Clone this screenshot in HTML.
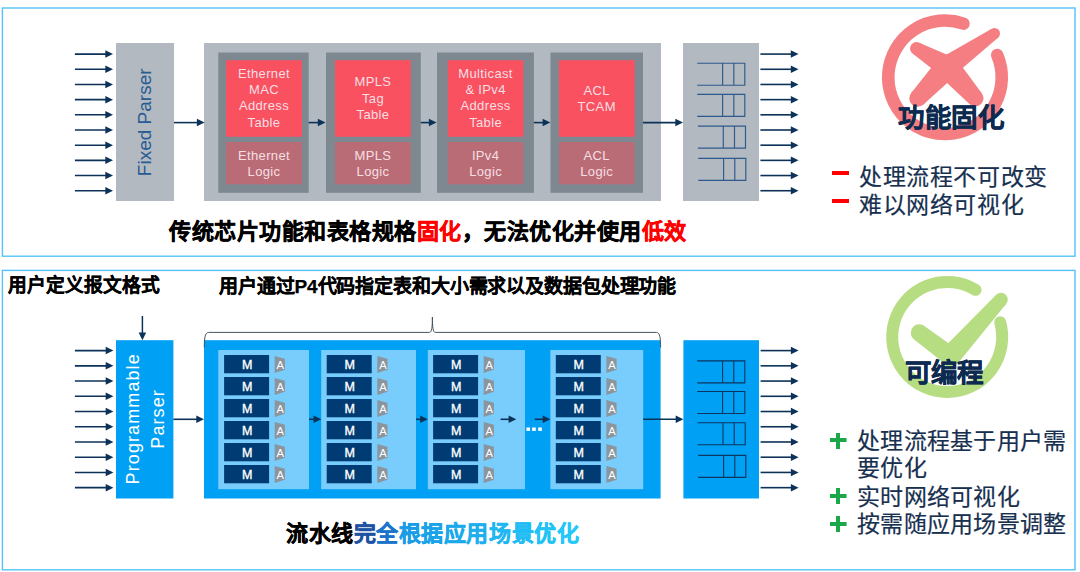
<!DOCTYPE html>
<html lang="zh-CN"><head><meta charset="utf-8">
<style>
html,body{margin:0;padding:0;background:#fff;width:1080px;height:572px;overflow:hidden;}
body{position:relative;font-family:"Liberation Sans",sans-serif;}
svg{position:absolute;left:0;top:0;}
svg text{font-family:"Liberation Sans",sans-serif;}
.dash{position:absolute;left:832px;width:17.4px;height:3.4px;background:#f00;}
.bl{font-size:23px;letter-spacing:0.6px;color:#17304f;-webkit-text-stroke:0.2px currentColor;}
.bb{letter-spacing:0.28px;}
.plus{position:absolute;left:830.4px;width:16.2px;height:16px;background:linear-gradient(#1aa84a,#1aa84a) center/100% 4.4px no-repeat,linear-gradient(#1aa84a,#1aa84a) center/4.4px 100% no-repeat;}
.t{position:absolute;white-space:nowrap;line-height:1;font-family:"Liberation Sans",sans-serif;}
</style></head><body>
<svg width="1080" height="572" viewBox="0 0 1080 572">
<rect x="2.4" y="8" width="1072.6" height="248.2" fill="none" stroke="#55c2f7" stroke-width="1.4"/>
<rect x="2.4" y="270.4" width="1072.6" height="299.4" fill="none" stroke="#55c2f7" stroke-width="1.4"/>
<line x1="74.9" y1="54.1" x2="106.3" y2="54.1" stroke="#0c3259" stroke-width="1.6"/><path d="M105.3,50.35 L113,54.1 L105.3,57.85 Z" fill="#0c3259"/>
<line x1="760.4" y1="54.1" x2="791.8" y2="54.1" stroke="#0c3259" stroke-width="1.6"/><path d="M790.8,50.35 L798.5,54.1 L790.8,57.85 Z" fill="#0c3259"/>
<line x1="74.9" y1="69.28" x2="106.3" y2="69.28" stroke="#0c3259" stroke-width="1.6"/><path d="M105.3,65.53 L113,69.28 L105.3,73.03 Z" fill="#0c3259"/>
<line x1="760.4" y1="69.28" x2="791.8" y2="69.28" stroke="#0c3259" stroke-width="1.6"/><path d="M790.8,65.53 L798.5,69.28 L790.8,73.03 Z" fill="#0c3259"/>
<line x1="74.9" y1="84.46000000000001" x2="106.3" y2="84.46000000000001" stroke="#0c3259" stroke-width="1.6"/><path d="M105.3,80.71000000000001 L113,84.46000000000001 L105.3,88.21000000000001 Z" fill="#0c3259"/>
<line x1="760.4" y1="84.46000000000001" x2="791.8" y2="84.46000000000001" stroke="#0c3259" stroke-width="1.6"/><path d="M790.8,80.71000000000001 L798.5,84.46000000000001 L790.8,88.21000000000001 Z" fill="#0c3259"/>
<line x1="74.9" y1="99.64" x2="106.3" y2="99.64" stroke="#0c3259" stroke-width="1.6"/><path d="M105.3,95.89 L113,99.64 L105.3,103.39 Z" fill="#0c3259"/>
<line x1="760.4" y1="99.64" x2="791.8" y2="99.64" stroke="#0c3259" stroke-width="1.6"/><path d="M790.8,95.89 L798.5,99.64 L790.8,103.39 Z" fill="#0c3259"/>
<line x1="74.9" y1="114.82" x2="106.3" y2="114.82" stroke="#0c3259" stroke-width="1.6"/><path d="M105.3,111.07 L113,114.82 L105.3,118.57 Z" fill="#0c3259"/>
<line x1="760.4" y1="114.82" x2="791.8" y2="114.82" stroke="#0c3259" stroke-width="1.6"/><path d="M790.8,111.07 L798.5,114.82 L790.8,118.57 Z" fill="#0c3259"/>
<line x1="74.9" y1="130.0" x2="106.3" y2="130.0" stroke="#0c3259" stroke-width="1.6"/><path d="M105.3,126.25 L113,130.0 L105.3,133.75 Z" fill="#0c3259"/>
<line x1="760.4" y1="130.0" x2="791.8" y2="130.0" stroke="#0c3259" stroke-width="1.6"/><path d="M790.8,126.25 L798.5,130.0 L790.8,133.75 Z" fill="#0c3259"/>
<line x1="74.9" y1="145.18" x2="106.3" y2="145.18" stroke="#0c3259" stroke-width="1.6"/><path d="M105.3,141.43 L113,145.18 L105.3,148.93 Z" fill="#0c3259"/>
<line x1="760.4" y1="145.18" x2="791.8" y2="145.18" stroke="#0c3259" stroke-width="1.6"/><path d="M790.8,141.43 L798.5,145.18 L790.8,148.93 Z" fill="#0c3259"/>
<line x1="74.9" y1="160.35999999999999" x2="106.3" y2="160.35999999999999" stroke="#0c3259" stroke-width="1.6"/><path d="M105.3,156.60999999999999 L113,160.35999999999999 L105.3,164.10999999999999 Z" fill="#0c3259"/>
<line x1="760.4" y1="160.35999999999999" x2="791.8" y2="160.35999999999999" stroke="#0c3259" stroke-width="1.6"/><path d="M790.8,156.60999999999999 L798.5,160.35999999999999 L790.8,164.10999999999999 Z" fill="#0c3259"/>
<line x1="74.9" y1="175.54" x2="106.3" y2="175.54" stroke="#0c3259" stroke-width="1.6"/><path d="M105.3,171.79 L113,175.54 L105.3,179.29 Z" fill="#0c3259"/>
<line x1="760.4" y1="175.54" x2="791.8" y2="175.54" stroke="#0c3259" stroke-width="1.6"/><path d="M790.8,171.79 L798.5,175.54 L790.8,179.29 Z" fill="#0c3259"/>
<line x1="74.9" y1="190.72" x2="106.3" y2="190.72" stroke="#0c3259" stroke-width="1.6"/><path d="M105.3,186.97 L113,190.72 L105.3,194.47 Z" fill="#0c3259"/>
<line x1="760.4" y1="190.72" x2="791.8" y2="190.72" stroke="#0c3259" stroke-width="1.6"/><path d="M790.8,186.97 L798.5,190.72 L790.8,194.47 Z" fill="#0c3259"/>
<rect x="116" y="43" width="58" height="158" fill="#b2b9c0"/>
<rect x="204" y="43" width="457" height="158" fill="#b2b9c0"/>
<rect x="683" y="43" width="76" height="158" fill="#b2b9c0"/>
<rect x="218.3" y="52.5" width="90.39999999999998" height="140.3" fill="#7d8891"/>
<rect x="226" y="60.2" width="76" height="76.6" fill="#fa5161"/>
<rect x="226" y="142" width="76" height="42.3" fill="#ba6c76"/>
<rect x="326" y="52.5" width="94.80000000000001" height="140.3" fill="#7d8891"/>
<rect x="335" y="60.2" width="75.80000000000001" height="76.6" fill="#fa5161"/>
<rect x="335" y="142" width="75.80000000000001" height="42.3" fill="#ba6c76"/>
<rect x="437" y="52.5" width="96.89999999999998" height="140.3" fill="#7d8891"/>
<rect x="447.8" y="60.2" width="75.59999999999997" height="76.6" fill="#fa5161"/>
<rect x="447.8" y="142" width="75.59999999999997" height="42.3" fill="#ba6c76"/>
<rect x="550.5" y="52.5" width="92.5" height="140.3" fill="#7d8891"/>
<rect x="558.9" y="60.2" width="75.70000000000005" height="76.6" fill="#fa5161"/>
<rect x="558.9" y="142" width="75.70000000000005" height="42.3" fill="#ba6c76"/>
<line x1="174" y1="122.6" x2="197.9" y2="122.6" stroke="#0c3259" stroke-width="1.6"/><path d="M196.9,118.85 L204.6,122.6 L196.9,126.35 Z" fill="#0c3259"/>
<line x1="308.7" y1="122.6" x2="318.8" y2="122.6" stroke="#0c3259" stroke-width="1.6"/><path d="M317.8,118.85 L325.5,122.6 L317.8,126.35 Z" fill="#0c3259"/>
<line x1="420.8" y1="122.6" x2="429.90000000000003" y2="122.6" stroke="#0c3259" stroke-width="1.6"/><path d="M428.90000000000003,118.85 L436.6,122.6 L428.90000000000003,126.35 Z" fill="#0c3259"/>
<line x1="533.9" y1="122.6" x2="543.5999999999999" y2="122.6" stroke="#0c3259" stroke-width="1.6"/><path d="M542.5999999999999,118.85 L550.3,122.6 L542.5999999999999,126.35 Z" fill="#0c3259"/>
<line x1="643" y1="122.6" x2="676.3" y2="122.6" stroke="#0c3259" stroke-width="1.6"/><path d="M675.3,118.85 L683,122.6 L675.3,126.35 Z" fill="#0c3259"/>
<path d="M697.2,63.2 H744.8000000000001 V85.2 H697.2 M722.6,63.2 V85.2 M733.8000000000001,63.2 V85.2" fill="none" stroke="#2c5a8c" stroke-width="1.15"/>
<path d="M697.2,94.3 H744.8000000000001 V116.3 H697.2 M722.6,94.3 V116.3 M733.8000000000001,94.3 V116.3" fill="none" stroke="#2c5a8c" stroke-width="1.15"/>
<path d="M697.9,126.1 H745.5 V148.1 H697.9 M723.3,126.1 V148.1 M734.5,126.1 V148.1" fill="none" stroke="#2c5a8c" stroke-width="1.15"/>
<path d="M698.2,158.3 H745.8000000000001 V180.3 H698.2 M723.6,158.3 V180.3 M734.8000000000001,158.3 V180.3" fill="none" stroke="#2c5a8c" stroke-width="1.15"/>
<text x="264" y="77.5" font-size="13" fill="#f6dfe2" text-anchor="middle" font-weight="normal" letter-spacing="0.35">Ethernet</text><text x="264" y="93.9" font-size="13" fill="#f6dfe2" text-anchor="middle" font-weight="normal" letter-spacing="0.35">MAC</text><text x="264" y="110.3" font-size="13" fill="#f6dfe2" text-anchor="middle" font-weight="normal" letter-spacing="0.35">Address</text><text x="264" y="126.69999999999999" font-size="13" fill="#f6dfe2" text-anchor="middle" font-weight="normal" letter-spacing="0.35">Table</text>
<text x="264" y="159.6" font-size="13" fill="#f6dfe2" text-anchor="middle" font-weight="normal" letter-spacing="0.35">Ethernet</text><text x="264" y="176.0" font-size="13" fill="#f6dfe2" text-anchor="middle" font-weight="normal" letter-spacing="0.35">Logic</text>
<text x="373" y="86.3" font-size="13" fill="#f6dfe2" text-anchor="middle" font-weight="normal" letter-spacing="0.35">MPLS</text><text x="373" y="102.69999999999999" font-size="13" fill="#f6dfe2" text-anchor="middle" font-weight="normal" letter-spacing="0.35">Tag</text><text x="373" y="119.1" font-size="13" fill="#f6dfe2" text-anchor="middle" font-weight="normal" letter-spacing="0.35">Table</text>
<text x="373" y="159.6" font-size="13" fill="#f6dfe2" text-anchor="middle" font-weight="normal" letter-spacing="0.35">MPLS</text><text x="373" y="176.0" font-size="13" fill="#f6dfe2" text-anchor="middle" font-weight="normal" letter-spacing="0.35">Logic</text>
<text x="485.6" y="77.5" font-size="13" fill="#f6dfe2" text-anchor="middle" font-weight="normal" letter-spacing="0.35">Multicast</text><text x="485.6" y="93.9" font-size="13" fill="#f6dfe2" text-anchor="middle" font-weight="normal" letter-spacing="0.35">&amp; IPv4</text><text x="485.6" y="110.3" font-size="13" fill="#f6dfe2" text-anchor="middle" font-weight="normal" letter-spacing="0.35">Address</text><text x="485.6" y="126.69999999999999" font-size="13" fill="#f6dfe2" text-anchor="middle" font-weight="normal" letter-spacing="0.35">Table</text>
<text x="485.6" y="159.6" font-size="13" fill="#f6dfe2" text-anchor="middle" font-weight="normal" letter-spacing="0.35">IPv4</text><text x="485.6" y="176.0" font-size="13" fill="#f6dfe2" text-anchor="middle" font-weight="normal" letter-spacing="0.35">Logic</text>
<text x="596.7" y="94.8" font-size="13" fill="#f6dfe2" text-anchor="middle" font-weight="normal" letter-spacing="0.35">ACL</text><text x="596.7" y="111.19999999999999" font-size="13" fill="#f6dfe2" text-anchor="middle" font-weight="normal" letter-spacing="0.35">TCAM</text>
<text x="596.7" y="159.6" font-size="13" fill="#f6dfe2" text-anchor="middle" font-weight="normal" letter-spacing="0.35">ACL</text><text x="596.7" y="176.0" font-size="13" fill="#f6dfe2" text-anchor="middle" font-weight="normal" letter-spacing="0.35">Logic</text>
<text transform="translate(151.2,122.3) rotate(-90)" font-size="19" fill="#285b93" text-anchor="middle">Fixed Parser</text>
<line x1="74.9" y1="350.6" x2="106.7" y2="350.6" stroke="#0c3259" stroke-width="1.6"/><path d="M105.7,346.85 L113.4,350.6 L105.7,354.35 Z" fill="#0c3259"/>
<line x1="760.6" y1="350.6" x2="791.9" y2="350.6" stroke="#0c3259" stroke-width="1.6"/><path d="M790.9,346.85 L798.6,350.6 L790.9,354.35 Z" fill="#0c3259"/>
<line x1="74.9" y1="365.83000000000004" x2="106.7" y2="365.83000000000004" stroke="#0c3259" stroke-width="1.6"/><path d="M105.7,362.08000000000004 L113.4,365.83000000000004 L105.7,369.58000000000004 Z" fill="#0c3259"/>
<line x1="760.6" y1="365.83000000000004" x2="791.9" y2="365.83000000000004" stroke="#0c3259" stroke-width="1.6"/><path d="M790.9,362.08000000000004 L798.6,365.83000000000004 L790.9,369.58000000000004 Z" fill="#0c3259"/>
<line x1="74.9" y1="381.06" x2="106.7" y2="381.06" stroke="#0c3259" stroke-width="1.6"/><path d="M105.7,377.31 L113.4,381.06 L105.7,384.81 Z" fill="#0c3259"/>
<line x1="760.6" y1="381.06" x2="791.9" y2="381.06" stroke="#0c3259" stroke-width="1.6"/><path d="M790.9,377.31 L798.6,381.06 L790.9,384.81 Z" fill="#0c3259"/>
<line x1="74.9" y1="396.29" x2="106.7" y2="396.29" stroke="#0c3259" stroke-width="1.6"/><path d="M105.7,392.54 L113.4,396.29 L105.7,400.04 Z" fill="#0c3259"/>
<line x1="760.6" y1="396.29" x2="791.9" y2="396.29" stroke="#0c3259" stroke-width="1.6"/><path d="M790.9,392.54 L798.6,396.29 L790.9,400.04 Z" fill="#0c3259"/>
<line x1="74.9" y1="411.52000000000004" x2="106.7" y2="411.52000000000004" stroke="#0c3259" stroke-width="1.6"/><path d="M105.7,407.77000000000004 L113.4,411.52000000000004 L105.7,415.27000000000004 Z" fill="#0c3259"/>
<line x1="760.6" y1="411.52000000000004" x2="791.9" y2="411.52000000000004" stroke="#0c3259" stroke-width="1.6"/><path d="M790.9,407.77000000000004 L798.6,411.52000000000004 L790.9,415.27000000000004 Z" fill="#0c3259"/>
<line x1="74.9" y1="426.75" x2="106.7" y2="426.75" stroke="#0c3259" stroke-width="1.6"/><path d="M105.7,423.0 L113.4,426.75 L105.7,430.5 Z" fill="#0c3259"/>
<line x1="760.6" y1="426.75" x2="791.9" y2="426.75" stroke="#0c3259" stroke-width="1.6"/><path d="M790.9,423.0 L798.6,426.75 L790.9,430.5 Z" fill="#0c3259"/>
<line x1="74.9" y1="441.98" x2="106.7" y2="441.98" stroke="#0c3259" stroke-width="1.6"/><path d="M105.7,438.23 L113.4,441.98 L105.7,445.73 Z" fill="#0c3259"/>
<line x1="760.6" y1="441.98" x2="791.9" y2="441.98" stroke="#0c3259" stroke-width="1.6"/><path d="M790.9,438.23 L798.6,441.98 L790.9,445.73 Z" fill="#0c3259"/>
<line x1="74.9" y1="457.21000000000004" x2="106.7" y2="457.21000000000004" stroke="#0c3259" stroke-width="1.6"/><path d="M105.7,453.46000000000004 L113.4,457.21000000000004 L105.7,460.96000000000004 Z" fill="#0c3259"/>
<line x1="760.6" y1="457.21000000000004" x2="791.9" y2="457.21000000000004" stroke="#0c3259" stroke-width="1.6"/><path d="M790.9,453.46000000000004 L798.6,457.21000000000004 L790.9,460.96000000000004 Z" fill="#0c3259"/>
<line x1="74.9" y1="472.44000000000005" x2="106.7" y2="472.44000000000005" stroke="#0c3259" stroke-width="1.6"/><path d="M105.7,468.69000000000005 L113.4,472.44000000000005 L105.7,476.19000000000005 Z" fill="#0c3259"/>
<line x1="760.6" y1="472.44000000000005" x2="791.9" y2="472.44000000000005" stroke="#0c3259" stroke-width="1.6"/><path d="M790.9,468.69000000000005 L798.6,472.44000000000005 L790.9,476.19000000000005 Z" fill="#0c3259"/>
<line x1="74.9" y1="487.67" x2="106.7" y2="487.67" stroke="#0c3259" stroke-width="1.6"/><path d="M105.7,483.92 L113.4,487.67 L105.7,491.42 Z" fill="#0c3259"/>
<line x1="760.6" y1="487.67" x2="791.9" y2="487.67" stroke="#0c3259" stroke-width="1.6"/><path d="M790.9,483.92 L798.6,487.67 L790.9,491.42 Z" fill="#0c3259"/>
<rect x="116" y="340.2" width="57.4" height="158.3" fill="#00a1f4"/>
<rect x="204" y="340.2" width="456.6" height="158.3" fill="#00a1f4"/>
<rect x="683.4" y="340.2" width="75.6" height="158.3" fill="#00a1f4"/>
<rect x="218.3" y="350" width="90.69999999999999" height="139.2" fill="#79cdfd"/>
<rect x="224.1" y="355" width="45" height="18.3" fill="#003c73"/>
<text x="247.1" y="369.3" font-size="12.5" fill="#fff" text-anchor="middle" stroke="#fff" stroke-width="0.35">M</text>
<path d="M274.7,355.9 L284.9,358.8 L284.9,369.8 L274.7,372.9 Z" fill="#8b959d"/>
<text x="280.3" y="369.3" font-size="11.2" fill="#fff" text-anchor="middle">A</text>
<rect x="224.1" y="377" width="45" height="18.3" fill="#003c73"/>
<text x="247.1" y="391.3" font-size="12.5" fill="#fff" text-anchor="middle" stroke="#fff" stroke-width="0.35">M</text>
<path d="M274.7,377.9 L284.9,380.8 L284.9,391.8 L274.7,394.9 Z" fill="#8b959d"/>
<text x="280.3" y="391.3" font-size="11.2" fill="#fff" text-anchor="middle">A</text>
<rect x="224.1" y="399" width="45" height="18.3" fill="#003c73"/>
<text x="247.1" y="413.3" font-size="12.5" fill="#fff" text-anchor="middle" stroke="#fff" stroke-width="0.35">M</text>
<path d="M274.7,399.9 L284.9,402.8 L284.9,413.8 L274.7,416.9 Z" fill="#8b959d"/>
<text x="280.3" y="413.3" font-size="11.2" fill="#fff" text-anchor="middle">A</text>
<rect x="224.1" y="421" width="45" height="18.3" fill="#003c73"/>
<text x="247.1" y="435.3" font-size="12.5" fill="#fff" text-anchor="middle" stroke="#fff" stroke-width="0.35">M</text>
<path d="M274.7,421.9 L284.9,424.8 L284.9,435.8 L274.7,438.9 Z" fill="#8b959d"/>
<text x="280.3" y="435.3" font-size="11.2" fill="#fff" text-anchor="middle">A</text>
<rect x="224.1" y="443" width="45" height="18.3" fill="#003c73"/>
<text x="247.1" y="457.3" font-size="12.5" fill="#fff" text-anchor="middle" stroke="#fff" stroke-width="0.35">M</text>
<path d="M274.7,443.9 L284.9,446.8 L284.9,457.8 L274.7,460.9 Z" fill="#8b959d"/>
<text x="280.3" y="457.3" font-size="11.2" fill="#fff" text-anchor="middle">A</text>
<rect x="224.1" y="465" width="45" height="18.3" fill="#003c73"/>
<text x="247.1" y="479.3" font-size="12.5" fill="#fff" text-anchor="middle" stroke="#fff" stroke-width="0.35">M</text>
<path d="M274.7,465.9 L284.9,468.8 L284.9,479.8 L274.7,482.9 Z" fill="#8b959d"/>
<text x="280.3" y="479.3" font-size="11.2" fill="#fff" text-anchor="middle">A</text>
<rect x="321.2" y="350" width="94.80000000000001" height="139.2" fill="#79cdfd"/>
<rect x="326.7" y="355" width="45" height="18.3" fill="#003c73"/>
<text x="349.7" y="369.3" font-size="12.5" fill="#fff" text-anchor="middle" stroke="#fff" stroke-width="0.35">M</text>
<path d="M377.3,355.9 L387.5,358.8 L387.5,369.8 L377.3,372.9 Z" fill="#8b959d"/>
<text x="382.90000000000003" y="369.3" font-size="11.2" fill="#fff" text-anchor="middle">A</text>
<rect x="326.7" y="377" width="45" height="18.3" fill="#003c73"/>
<text x="349.7" y="391.3" font-size="12.5" fill="#fff" text-anchor="middle" stroke="#fff" stroke-width="0.35">M</text>
<path d="M377.3,377.9 L387.5,380.8 L387.5,391.8 L377.3,394.9 Z" fill="#8b959d"/>
<text x="382.90000000000003" y="391.3" font-size="11.2" fill="#fff" text-anchor="middle">A</text>
<rect x="326.7" y="399" width="45" height="18.3" fill="#003c73"/>
<text x="349.7" y="413.3" font-size="12.5" fill="#fff" text-anchor="middle" stroke="#fff" stroke-width="0.35">M</text>
<path d="M377.3,399.9 L387.5,402.8 L387.5,413.8 L377.3,416.9 Z" fill="#8b959d"/>
<text x="382.90000000000003" y="413.3" font-size="11.2" fill="#fff" text-anchor="middle">A</text>
<rect x="326.7" y="421" width="45" height="18.3" fill="#003c73"/>
<text x="349.7" y="435.3" font-size="12.5" fill="#fff" text-anchor="middle" stroke="#fff" stroke-width="0.35">M</text>
<path d="M377.3,421.9 L387.5,424.8 L387.5,435.8 L377.3,438.9 Z" fill="#8b959d"/>
<text x="382.90000000000003" y="435.3" font-size="11.2" fill="#fff" text-anchor="middle">A</text>
<rect x="326.7" y="443" width="45" height="18.3" fill="#003c73"/>
<text x="349.7" y="457.3" font-size="12.5" fill="#fff" text-anchor="middle" stroke="#fff" stroke-width="0.35">M</text>
<path d="M377.3,443.9 L387.5,446.8 L387.5,457.8 L377.3,460.9 Z" fill="#8b959d"/>
<text x="382.90000000000003" y="457.3" font-size="11.2" fill="#fff" text-anchor="middle">A</text>
<rect x="326.7" y="465" width="45" height="18.3" fill="#003c73"/>
<text x="349.7" y="479.3" font-size="12.5" fill="#fff" text-anchor="middle" stroke="#fff" stroke-width="0.35">M</text>
<path d="M377.3,465.9 L387.5,468.8 L387.5,479.8 L377.3,482.9 Z" fill="#8b959d"/>
<text x="382.90000000000003" y="479.3" font-size="11.2" fill="#fff" text-anchor="middle">A</text>
<rect x="427.8" y="350" width="97.19999999999999" height="139.2" fill="#79cdfd"/>
<rect x="433.1" y="355" width="45" height="18.3" fill="#003c73"/>
<text x="456.1" y="369.3" font-size="12.5" fill="#fff" text-anchor="middle" stroke="#fff" stroke-width="0.35">M</text>
<path d="M483.70000000000005,355.9 L493.90000000000003,358.8 L493.90000000000003,369.8 L483.70000000000005,372.9 Z" fill="#8b959d"/>
<text x="489.30000000000007" y="369.3" font-size="11.2" fill="#fff" text-anchor="middle">A</text>
<rect x="433.1" y="377" width="45" height="18.3" fill="#003c73"/>
<text x="456.1" y="391.3" font-size="12.5" fill="#fff" text-anchor="middle" stroke="#fff" stroke-width="0.35">M</text>
<path d="M483.70000000000005,377.9 L493.90000000000003,380.8 L493.90000000000003,391.8 L483.70000000000005,394.9 Z" fill="#8b959d"/>
<text x="489.30000000000007" y="391.3" font-size="11.2" fill="#fff" text-anchor="middle">A</text>
<rect x="433.1" y="399" width="45" height="18.3" fill="#003c73"/>
<text x="456.1" y="413.3" font-size="12.5" fill="#fff" text-anchor="middle" stroke="#fff" stroke-width="0.35">M</text>
<path d="M483.70000000000005,399.9 L493.90000000000003,402.8 L493.90000000000003,413.8 L483.70000000000005,416.9 Z" fill="#8b959d"/>
<text x="489.30000000000007" y="413.3" font-size="11.2" fill="#fff" text-anchor="middle">A</text>
<rect x="433.1" y="421" width="45" height="18.3" fill="#003c73"/>
<text x="456.1" y="435.3" font-size="12.5" fill="#fff" text-anchor="middle" stroke="#fff" stroke-width="0.35">M</text>
<path d="M483.70000000000005,421.9 L493.90000000000003,424.8 L493.90000000000003,435.8 L483.70000000000005,438.9 Z" fill="#8b959d"/>
<text x="489.30000000000007" y="435.3" font-size="11.2" fill="#fff" text-anchor="middle">A</text>
<rect x="433.1" y="443" width="45" height="18.3" fill="#003c73"/>
<text x="456.1" y="457.3" font-size="12.5" fill="#fff" text-anchor="middle" stroke="#fff" stroke-width="0.35">M</text>
<path d="M483.70000000000005,443.9 L493.90000000000003,446.8 L493.90000000000003,457.8 L483.70000000000005,460.9 Z" fill="#8b959d"/>
<text x="489.30000000000007" y="457.3" font-size="11.2" fill="#fff" text-anchor="middle">A</text>
<rect x="433.1" y="465" width="45" height="18.3" fill="#003c73"/>
<text x="456.1" y="479.3" font-size="12.5" fill="#fff" text-anchor="middle" stroke="#fff" stroke-width="0.35">M</text>
<path d="M483.70000000000005,465.9 L493.90000000000003,468.8 L493.90000000000003,479.8 L483.70000000000005,482.9 Z" fill="#8b959d"/>
<text x="489.30000000000007" y="479.3" font-size="11.2" fill="#fff" text-anchor="middle">A</text>
<rect x="550.4" y="350" width="92.80000000000007" height="139.2" fill="#79cdfd"/>
<rect x="555.8" y="355" width="45" height="18.3" fill="#003c73"/>
<text x="578.8" y="369.3" font-size="12.5" fill="#fff" text-anchor="middle" stroke="#fff" stroke-width="0.35">M</text>
<path d="M606.4,355.9 L616.6,358.8 L616.6,369.8 L606.4,372.9 Z" fill="#8b959d"/>
<text x="612.0" y="369.3" font-size="11.2" fill="#fff" text-anchor="middle">A</text>
<rect x="555.8" y="377" width="45" height="18.3" fill="#003c73"/>
<text x="578.8" y="391.3" font-size="12.5" fill="#fff" text-anchor="middle" stroke="#fff" stroke-width="0.35">M</text>
<path d="M606.4,377.9 L616.6,380.8 L616.6,391.8 L606.4,394.9 Z" fill="#8b959d"/>
<text x="612.0" y="391.3" font-size="11.2" fill="#fff" text-anchor="middle">A</text>
<rect x="555.8" y="399" width="45" height="18.3" fill="#003c73"/>
<text x="578.8" y="413.3" font-size="12.5" fill="#fff" text-anchor="middle" stroke="#fff" stroke-width="0.35">M</text>
<path d="M606.4,399.9 L616.6,402.8 L616.6,413.8 L606.4,416.9 Z" fill="#8b959d"/>
<text x="612.0" y="413.3" font-size="11.2" fill="#fff" text-anchor="middle">A</text>
<rect x="555.8" y="421" width="45" height="18.3" fill="#003c73"/>
<text x="578.8" y="435.3" font-size="12.5" fill="#fff" text-anchor="middle" stroke="#fff" stroke-width="0.35">M</text>
<path d="M606.4,421.9 L616.6,424.8 L616.6,435.8 L606.4,438.9 Z" fill="#8b959d"/>
<text x="612.0" y="435.3" font-size="11.2" fill="#fff" text-anchor="middle">A</text>
<rect x="555.8" y="443" width="45" height="18.3" fill="#003c73"/>
<text x="578.8" y="457.3" font-size="12.5" fill="#fff" text-anchor="middle" stroke="#fff" stroke-width="0.35">M</text>
<path d="M606.4,443.9 L616.6,446.8 L616.6,457.8 L606.4,460.9 Z" fill="#8b959d"/>
<text x="612.0" y="457.3" font-size="11.2" fill="#fff" text-anchor="middle">A</text>
<rect x="555.8" y="465" width="45" height="18.3" fill="#003c73"/>
<text x="578.8" y="479.3" font-size="12.5" fill="#fff" text-anchor="middle" stroke="#fff" stroke-width="0.35">M</text>
<path d="M606.4,465.9 L616.6,468.8 L616.6,479.8 L606.4,482.9 Z" fill="#8b959d"/>
<text x="612.0" y="479.3" font-size="11.2" fill="#fff" text-anchor="middle">A</text>
<line x1="173.4" y1="419.3" x2="197.3" y2="419.3" stroke="#0c3259" stroke-width="1.6"/><path d="M196.3,415.55 L204,419.3 L196.3,423.05 Z" fill="#0c3259"/>
<line x1="309" y1="419.3" x2="314.5" y2="419.3" stroke="#0c3259" stroke-width="1.6"/><path d="M313.5,415.55 L321.2,419.3 L313.5,423.05 Z" fill="#0c3259"/>
<line x1="416" y1="419.3" x2="421.1" y2="419.3" stroke="#0c3259" stroke-width="1.6"/><path d="M420.1,415.55 L427.8,419.3 L420.1,423.05 Z" fill="#0c3259"/>
<line x1="500.6" y1="419.3" x2="509.59999999999997" y2="419.3" stroke="#0c3259" stroke-width="1.6"/><path d="M508.59999999999997,415.55 L516.3,419.3 L508.59999999999997,423.05 Z" fill="#0c3259"/>
<line x1="534.8" y1="419.3" x2="543.6999999999999" y2="419.3" stroke="#0c3259" stroke-width="1.6"/><path d="M542.6999999999999,415.55 L550.4,419.3 L542.6999999999999,423.05 Z" fill="#0c3259"/>
<line x1="643.2" y1="419.3" x2="676.6999999999999" y2="419.3" stroke="#0c3259" stroke-width="1.6"/><path d="M675.6999999999999,415.55 L683.4,419.3 L675.6999999999999,423.05 Z" fill="#0c3259"/>
<rect x="526.4" y="427.5" width="3.7" height="3.4" fill="#fff"/><rect x="532.1" y="427.5" width="3.7" height="3.4" fill="#fff"/><rect x="538.2" y="427.5" width="3.7" height="3.4" fill="#fff"/>
<path d="M697.2,360.9 H744.8000000000001 V382.9 H697.2 M722.6,360.9 V382.9 M733.8000000000001,360.9 V382.9" fill="none" stroke="#0d3560" stroke-width="1.1"/>
<path d="M697.2,391.5 H744.8000000000001 V413.5 H697.2 M722.6,391.5 V413.5 M733.8000000000001,391.5 V413.5" fill="none" stroke="#0d3560" stroke-width="1.1"/>
<path d="M697.6,422.7 H745.2 V444.7 H697.6 M723.0,422.7 V444.7 M734.2,422.7 V444.7" fill="none" stroke="#0d3560" stroke-width="1.1"/>
<path d="M698.2,455.4 H745.8000000000001 V477.4 H698.2 M723.6,455.4 V477.4 M734.8000000000001,455.4 V477.4" fill="none" stroke="#0d3560" stroke-width="1.1"/>
<line x1="142.4" y1="316" x2="142.4" y2="333.5" stroke="#0c3259" stroke-width="1.5"/><path d="M138.65,332.5 L142.4,340.2 L146.15,332.5 Z" fill="#0c3259"/>
<path d="M204.3,347.5 C204.3,339 204.9,332.4 208.5,332.4 L429.5,332.4 C431.8,332.4 432.4,327 432.4,317 C432.4,327 433,332.4 435.3,332.4 L656.5,332.4 C660.1,332.4 660.6,339 660.6,347.5" fill="none" stroke="#3d4b5b" stroke-width="0.95"/>
<text transform="translate(138.8,418.8) rotate(-90)" font-size="18" fill="#fff" text-anchor="middle" letter-spacing="1.1">Programmable</text>
<text transform="translate(163.6,418.9) rotate(-90)" font-size="18" fill="#fff" text-anchor="middle" letter-spacing="1.1">Parser</text>
<path d="M963.48,23.64 A56.75,56.75 0 1 0 997.24,55.13" fill="none" stroke="#f47e82" stroke-width="12.6" stroke-linecap="round"/>
<path d="M953.64,75.79 L997.67,37.99 L991.33,29.01 L940.96,57.81 Z" fill="#f47e82"/><circle cx="994.5" cy="33.5" r="5.5" fill="#f47e82"/><circle cx="947.3" cy="66.8" r="11" fill="#f47e82"/>
<path d="M952.92,57.34 L919.82,42.91 L913.18,54.09 L941.68,76.26 Z" fill="#f47e82"/><circle cx="916.5" cy="48.5" r="6.5" fill="#f47e82"/><circle cx="947.3" cy="66.8" r="11" fill="#f47e82"/>
<path d="M938.54,58.60 L911.60,92.49 L924.00,104.11 L956.06,75.00 Z" fill="#f47e82"/><circle cx="917.8" cy="98.3" r="8.5" fill="#f47e82"/><circle cx="947.3" cy="66.8" r="12" fill="#f47e82"/>
<path d="M938.33,74.77 L969.17,103.75 L981.43,92.85 L956.27,58.83 Z" fill="#f47e82"/><circle cx="975.3" cy="98.3" r="8.2" fill="#f47e82"/><circle cx="947.3" cy="66.8" r="12" fill="#f47e82"/>
<path d="M975.53,289.86 A55,55 0 1 0 1000.20,322.30" fill="none" stroke="#b7dd83" stroke-width="12" stroke-linecap="round"/>
<path d="M956.00,348.40 L924.30,325.90 L914.10,339.50 L944.60,363.60 Z" fill="#b7dd83"/><circle cx="919.2" cy="332.7" r="8.5" fill="#b7dd83"/><circle cx="950.3" cy="356" r="9.5" fill="#b7dd83"/>
<path d="M958.11,363.01 L1006.06,304.04 L995.94,294.96 L942.49,348.99 Z" fill="#b7dd83"/><circle cx="1001" cy="299.5" r="6.8" fill="#b7dd83"/><circle cx="950.3" cy="356" r="10.5" fill="#b7dd83"/>
</svg>
<div class="t" style="left:169px;top:221px;font-size:22px;letter-spacing:0.52px;font-weight:bold;-webkit-text-stroke:0.45px currentColor;color:#000;">传统芯片功能和表格规格<span style="color:#f00">固化</span>，无法优化并使用<span style="color:#f00">低效</span></div>
<div class="t" style="left:898px;top:104.5px;font-size:26.5px;letter-spacing:0.5px;font-weight:bold;-webkit-text-stroke:0.45px currentColor;color:#0d2b50;">功能固化</div>
<div class="dash" style="top:171.2px"></div><div class="t bl" style="left:859px;top:166px;">处理流程不可改变</div>
<div class="dash" style="top:199.3px"></div><div class="t bl" style="left:859px;top:193.5px;">难以网络可视化</div>
<div class="t" style="left:8px;top:277px;font-size:18.75px;font-weight:bold;-webkit-text-stroke:0.25px currentColor;color:#000;">用户定义报文格式</div>
<div class="t" style="left:219px;top:277px;font-size:19px;letter-spacing:-0.12px;font-weight:bold;-webkit-text-stroke:0.25px currentColor;color:#000;">用户通过P4代码指定表和大小需求以及数据包处理功能</div>
<div class="t" style="left:905px;top:359.5px;font-size:26.5px;font-weight:bold;-webkit-text-stroke:0.45px currentColor;color:#0d2b50;">可编程</div>
<div class="plus" style="top:432.5px"></div><div class="t bl bb" style="left:857px;top:429.5px;">处理流程基于用户需</div>
<div class="t bl bb" style="left:857px;top:457px;">要优化</div>
<div class="plus" style="top:488px"></div><div class="t bl bb" style="left:857px;top:485.5px;">实时网络可视化</div>
<div class="plus" style="top:516px"></div><div class="t bl bb" style="left:857px;top:512.5px;">按需随应用场景调整</div>
<div class="t" style="left:286px;top:523px;font-size:22px;letter-spacing:0.55px;font-weight:bold;-webkit-text-stroke:0.45px currentColor;color:#000;">流水线<span style="color:#1f52a3">完</span><span style="color:#1a74cc">全</span><span style="color:#1a9de6">根</span><span style="color:#1ba3e9">据</span><span style="color:#1ca9eb">应</span><span style="color:#1dafee">用</span><span style="color:#1fb6f1">场</span><span style="color:#20bcf4">景</span><span style="color:#21c2f6">优</span><span style="color:#22c8f9">化</span></div>
</body></html>
